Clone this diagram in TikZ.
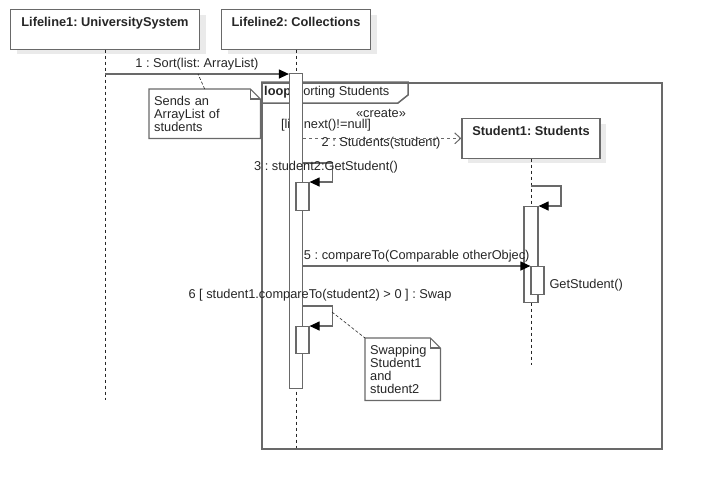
\documentclass[tikz,border=0pt]{standalone}
\usepackage{fontspec}
\setmainfont{Liberation Sans}
\frenchspacing
\usetikzlibrary{arrows.meta, positioning, shadows, calc}
\definecolor{umlline}{RGB}{105,105,105}
\definecolor{umltext}{RGB}{38,38,38}
\definecolor{umlshadow}{RGB}{234,234,234}

\begin{document}
\begin{tikzpicture}[x=1pt, y=-1pt,
    font=\fontsize{12.8}{13}\selectfont,
    every node/.style={text=umltext},
    lifebox/.style={draw=umlline, fill=white, line width=1.2pt, anchor=north, font=\fontsize{12.8}{13}\selectfont\bfseries, inner ysep=7pt, text height=9.5pt, text depth=16pt, general shadow={fill=umlshadow, shadow xshift=6pt, shadow yshift=-5pt}},
    lifeline/.style={draw=black!85, dash pattern=on 3pt off 3pt, line width=0.8pt},
    actbar/.style={draw=umlline, fill=white, line width=1.2pt, anchor=north, minimum width=13pt, inner sep=0pt},
    call/.style={draw=umlline, line width=1.2pt, -{Triangle[length=10pt, width=9pt, color=black]}},
    create/.style={draw=umlline, line width=1pt, dash pattern=on 3pt off 3pt, -{Straight Barb[length=6pt, width=11pt]}},
    notebox/.style={fill=white, anchor=north west, align=left, inner xsep=5pt, inner ysep=4pt},
    noteline/.style={draw=umlline, line width=1.2pt},
    notelink/.style={draw=black!85, dash pattern=on 3pt off 2pt, line width=0.6pt},
    frame/.style={draw=umlline, line width=1.5pt}
]
\useasboundingbox (0,0) rectangle (701,491);

% Lifelines
\node[lifebox, minimum width=189pt] (life1) at (105,9) {Lifeline1: UniversitySystem};
\node[lifebox, minimum width=149pt] (life2) at (296,9) {Lifeline2: Collections};
\node[lifebox, minimum width=138pt] (stud) at (531,118) {Student1: Students};
\coordinate (life1end) at (105,400);
\coordinate (life2end) at (296,448);
\coordinate (studend) at (531,365);
\draw[lifeline] (life1.south) -- (life1end);
\draw[lifeline] (life2.south) -- (life2end);
\draw[lifeline] (stud.south) -- (studend);

% Loop frame
\node[frame, anchor=north west, minimum width=400pt, minimum height=366pt, inner sep=0pt] (loopframe) at (261,82) {};
\draw[frame] (loopframe.north west) -- ++(147,0) -- ++(0,13) -- ++(-10,8) -- ++(-137,0);
\node[anchor=west, inner sep=0pt] (looplabel) at (264,92.5) {\textbf{loop} Sorting Students};
\node (guardlbl) at (326,125) {[list.next()!=null]};

% Note on the first call
\node[notebox, text width=101pt, minimum height=49pt] (sendnote) at (149,89) {Sends an\\ArrayList of\\students};
\draw[noteline] (sendnote.north west) -- ([xshift=-10pt]sendnote.north east) -- ([yshift=-10pt]sendnote.north east) -- (sendnote.south east) -- (sendnote.south west) -- cycle;
\draw[noteline] ([xshift=-10pt]sendnote.north east) |- ([yshift=-10pt]sendnote.north east);

% Activations
\node[actbar, minimum height=315pt] (act2) at (296,73) {};
\node[actbar, minimum height=28pt] (act2a) at (302.5,182) {};
\node[actbar, minimum height=27pt] (act2b) at (302.5,326) {};
\node[actbar, minimum height=96pt, minimum width=14pt] (actS) at (531,206) {};
\node[actbar, minimum height=28pt] (actSa) at (537.5,266) {};

% Messages
\coordinate (m1) at (105,74);
\draw[call] (m1) -- (m1 -| act2.west) node[midway, above] (sortlbl) {1 : Sort(list: ArrayList)};
\coordinate (m1note) at (198,74);
\draw[notelink] (sendnote.north) -- (m1note);

\draw[create] (act2.east |- stud.west) -- (stud.west);
\node (createlbl) at (381,113) {«create»};
\node (studlbl) at (381,143) {2 : Students(student)};

\draw[call] ($(act2.east |- act2a.north)+(0,-19)$) -- ++(29.5,0) |- (act2a.north east);
\node (getlbl3) at (326,167) {3 : student2:GetStudent()};

\draw[call] ($(actS.north)+(0,-20)$) -- ++(30,0) |- (actS.north east);

\draw[call] (act2.east |- actSa.north west) -- (actSa.north west) node[midway, above] (cmplbl) {5 : compareTo(Comparable otherObjec)};
\node[anchor=west] (getlbl) at (546,285) {GetStudent()};

\draw[call] ($(act2.east |- act2b.north)+(0,-20)$) -- ++(29.5,0) |- (act2b.north east);
\node (swaplbl) at (320,295) {6 [ student1.compareTo(student2) > 0 ] : Swap};

% Note on the swap
\coordinate (swapcorner) at (332,312);
\node[notebox, text width=65pt, minimum height=62pt] (swapnote) at (365,338) {Swapping\\Student1\\and\\student2};
\draw[noteline] (swapnote.north west) -- ([xshift=-10pt]swapnote.north east) -- ([yshift=-10pt]swapnote.north east) -- (swapnote.south east) -- (swapnote.south west) -- cycle;
\draw[noteline] ([xshift=-10pt]swapnote.north east) |- ([yshift=-10pt]swapnote.north east);
\draw[notelink] (swapcorner) -- (swapnote.north west);
\end{tikzpicture}
\end{document}
